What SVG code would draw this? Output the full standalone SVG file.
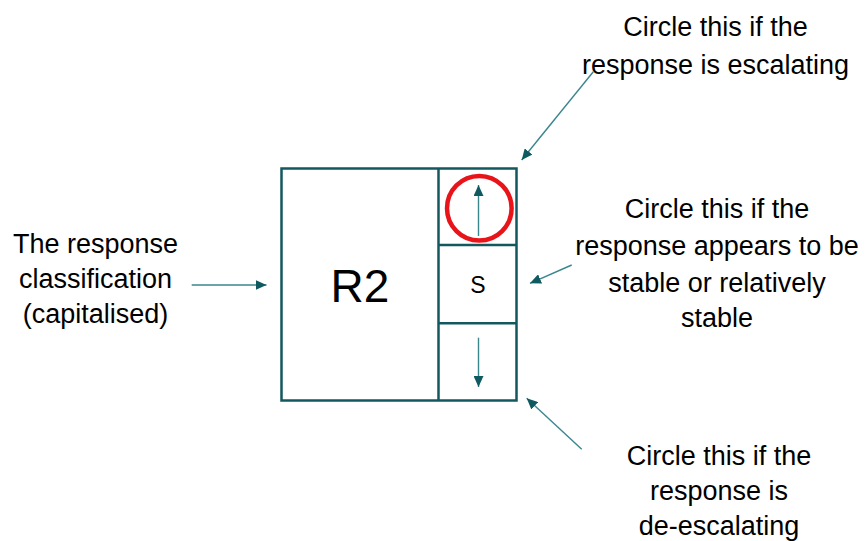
<svg xmlns="http://www.w3.org/2000/svg" width="865" height="541" viewBox="0 0 865 541">
  <style>
    .lbl { font-family: "Liberation Sans", Arial, sans-serif; font-size: 27px; fill: #000; text-anchor: middle; }
    .box { fill: #fff; stroke: #13585f; stroke-width: 2.5; }
    .conn { stroke: #3a868d; stroke-width: 1.4; fill: none; marker-end: url(#ah); }
  </style>
  <defs>
    <marker id="ah" markerUnits="userSpaceOnUse" markerWidth="12" markerHeight="10" refX="11" refY="5" orient="auto">
      <path d="M0,0 L11,5 L0,10 Z" fill="#0f5a61"/>
    </marker>
  </defs>
  <rect width="865" height="541" fill="#fff"/>

  <g id="classification-box">
    <rect class="box" x="281.5" y="168.5" width="235" height="232"/>
    <line class="box" x1="438.5" y1="168.5" x2="438.5" y2="400.5"/>
    <line class="box" x1="438.5" y1="245" x2="516.5" y2="245"/>
    <line class="box" x1="438.5" y1="323.3" x2="516.5" y2="323.3"/>
    <text x="360" y="301.5" font-family="Liberation Sans, Arial, sans-serif" font-size="46" text-anchor="middle" fill="#000">R2</text>
    <text x="478" y="293" font-family="Liberation Sans, Arial, sans-serif" font-size="23" text-anchor="middle" fill="#000">S</text>
  </g>

  <g id="escalating-circle">
    <circle cx="479.3" cy="208.3" r="32.3" fill="none" stroke="#e8141a" stroke-width="4.5"/>
  </g>

  <g id="label-classification">
    <text class="lbl" x="95.5" y="253">The response</text>
    <text class="lbl" x="95.5" y="288">classification</text>
    <text class="lbl" x="95.5" y="323">(capitalised)</text>
  </g>

  <g id="label-escalating">
    <text class="lbl" x="715.5" y="36">Circle this if the</text>
    <text class="lbl" x="715.5" y="74">response is escalating</text>
  </g>

  <g id="label-stable">
    <text class="lbl" x="717" y="218">Circle this if the</text>
    <text class="lbl" x="717" y="255">response appears to be</text>
    <text class="lbl" x="717" y="291.5">stable or relatively</text>
    <text class="lbl" x="717" y="326.5">stable</text>
  </g>

  <g id="label-deescalating">
    <text class="lbl" x="719" y="465">Circle this if the</text>
    <text class="lbl" x="719" y="500">response is</text>
    <text class="lbl" x="719" y="535">de-escalating</text>
  </g>

  <g id="connectors">
    <line class="conn" x1="191.7" y1="285" x2="266.5" y2="285"/>
    <line class="conn" x1="593.3" y1="71.7" x2="521.7" y2="160"/>
    <line class="conn" x1="571.7" y1="265" x2="530" y2="283.3"/>
    <line class="conn" x1="581.7" y1="449.3" x2="526.7" y2="398.3"/>
    <line class="conn" x1="478.5" y1="236" x2="478.5" y2="185"/>
    <line class="conn" x1="478.5" y1="337.7" x2="478.5" y2="387"/>
  </g>
</svg>
